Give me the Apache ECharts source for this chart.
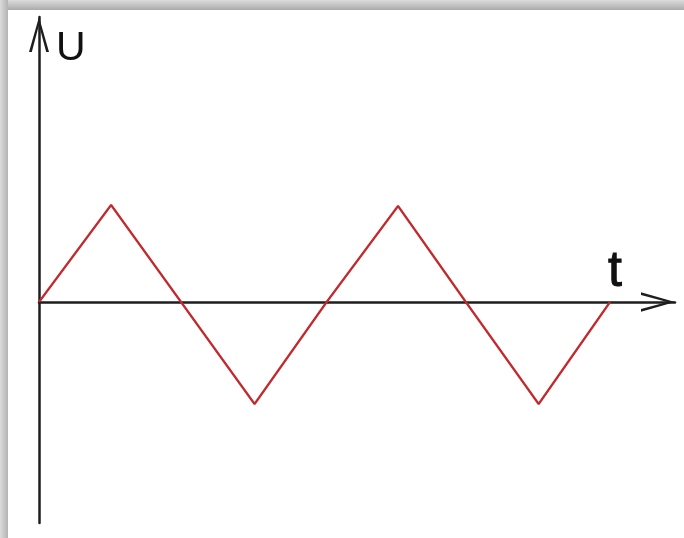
<!DOCTYPE html>
<html>
<head>
<meta charset="utf-8">
<script src="https://cdn.jsdelivr.net/npm/echarts@6/dist/echarts.min.js"></script>
<style>html,body{margin:0;padding:0;background:#fff}#c{width:684px;height:538px}</style>
</head>
<body>
<div id="c"></div>
<script>
// time (in quarter periods) and voltage of the triangle wave
const tValues = [0, 1.01, 1.99, 3.02, 4.03, 5.03, 5.98, 7.0, 8.0];
const uValues = [0, 0.97, 0, -1.02, 0, 0.96, 0, -1.02, 0];
const xAxisName = 't';
const yAxisName = 'U';

const chart = echarts.init(document.getElementById('c'), null, {renderer: 'canvas'});
const chevron = 'path://M10,0 L20,35 L17.2,35 L10,8 L2.8,35 L0,35 Z';
const axisColor = '#1e1e1e';

chart.setOption({
  animation: false,
  backgroundColor: '#fff',
  grid: {left: 39, right: 9, top: 17, bottom: 15, containLabel: false},
  xAxis: {
    type: 'value', min: 0, max: 8.91,
    name: xAxisName, nameLocation: 'end', nameGap: -67,
    nameTextStyle: {fontFamily: 'Liberation Sans', fontSize: 50, color: '#111', align: 'left', verticalAlign: 'bottom', padding: [0, 0, 5, 0], textBorderColor: '#111', textBorderWidth: 1},
    axisLine: {onZero: true, lineStyle: {color: axisColor, width: 2.5},
      symbol: ['none', chevron], symbolSize: [28, 34], symbolOffset: [0, -17]},
    axisTick: {show: false}, axisLabel: {show: false}, splitLine: {show: false}
  },
  yAxis: {
    type: 'value', min: -2.21, max: 2.85,
    name: yAxisName, nameLocation: 'end', nameGap: -32,
    nameTextStyle: {fontFamily: 'Liberation Sans', fontSize: 41, color: '#111', align: 'left', verticalAlign: 'middle', padding: [0, 0, 0, 17]},
    axisLine: {lineStyle: {color: axisColor, width: 2.5},
      symbol: ['none', chevron], symbolSize: [20, 35], symbolOffset: [0, -17.5]},
    axisTick: {show: false}, axisLabel: {show: false}, splitLine: {show: false}
  },
  series: [{
    type: 'line',
    data: tValues.map((t, i) => [t, uValues[i]]),
    showSymbol: false,
    lineStyle: {color: '#c2282c', width: 2.2},
    z: 1
  }],
  graphic: [
    {type: 'rect', left: 0, top: 0, z: 100, shape: {width: 684, height: 10},
      style: {fill: new echarts.graphic.LinearGradient(0, 0, 0, 1, [{offset: 0, color: '#dcdcdc'}, {offset: 1, color: '#ababab'}])}},
    {type: 'rect', left: 0, top: 0, z: 100, shape: {width: 8, height: 538},
      style: {fill: new echarts.graphic.LinearGradient(0, 0, 1, 0, [{offset: 0, color: '#dcdcdc'}, {offset: 1, color: '#b3b3b3'}])}}
  ]
});
</script>
</body>
</html>
